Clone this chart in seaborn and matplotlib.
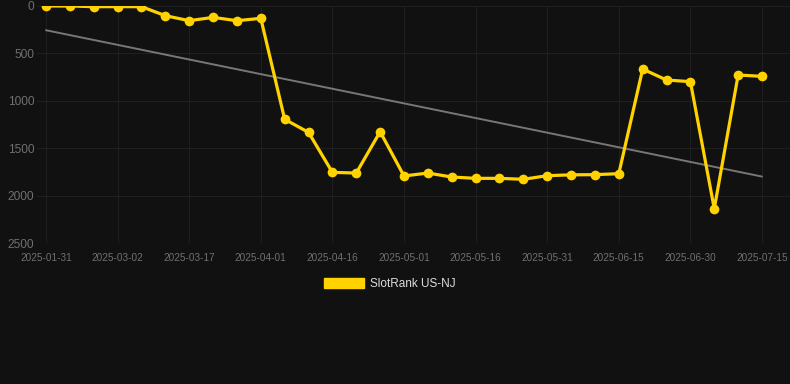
import numpy as np
import matplotlib
matplotlib.use("Agg")
import matplotlib.pyplot as plt
from matplotlib.patches import Patch
import seaborn as sns

# Data
dates = ["2025-01-31", "2025-02-10", "2025-02-20", "2025-03-02", "2025-03-07",
         "2025-03-12", "2025-03-17", "2025-03-22", "2025-03-27", "2025-04-01",
         "2025-04-06", "2025-04-11", "2025-04-16", "2025-04-21", "2025-04-26",
         "2025-05-01", "2025-05-06", "2025-05-11", "2025-05-16", "2025-05-21",
         "2025-05-26", "2025-05-31", "2025-06-05", "2025-06-10", "2025-06-15",
         "2025-06-20", "2025-06-25", "2025-06-30", "2025-07-05", "2025-07-10",
         "2025-07-15"]
ranks = [0, 0, 7, 7, 7, 102, 155, 120, 155, 130,
         1195, 1333, 1755, 1762, 1326, 1793, 1762, 1804, 1818, 1818,
         1828, 1790, 1781, 1779, 1769, 665, 781, 798, 2138, 728,
         742]
series_name = "SlotRank US-NJ"
y_ticks = [0, 500, 1000, 1500, 2000, 2500]

BG = "#111111"
GOLD = "#FFD200"
GRID = "#1f1f1f"

sns.set_theme(style="dark")
plt.rcParams["font.family"] = ["Liberation Sans", "DejaVu Sans"]

fig = plt.figure(figsize=(7.9, 3.84), dpi=100, facecolor=BG)
ax = fig.add_axes([37 / 790, 1 - 243 / 384, 1 - 37 / 790, (243 - 6) / 384])
ax.set_facecolor(BG)

x = np.arange(len(dates))

# Linear trend through the series
coef = np.polyfit(x, ranks, 1)
sns.lineplot(x=x, y=np.polyval(coef, x), ax=ax, color="#777777", lw=1.4)

sns.lineplot(x=x, y=ranks, ax=ax, color=GOLD, lw=2.3, marker="o",
             markersize=7, markeredgewidth=0)

ax.set_xlim(-9 / 23.87, 30 + 28 / 23.87)
ax.set_ylim(2500, 0)
ax.set_yticks(y_ticks)
ax.set_yticklabels([str(v) for v in y_ticks])
ax.set_xticks(x[::3])
ax.set_xticklabels(dates[::3])

ax.grid(True, color=GRID, lw=0.8)
for s in ax.spines.values():
    s.set_visible(False)
ax.tick_params(axis="x", colors=GRID, labelcolor="#707070",
               labelsize=7.2, length=4, width=0.8, pad=3)
ax.tick_params(axis="y", labelcolor="#707070", labelsize=8.6,
               length=0, pad=2)
ax.set_xlabel("")
ax.set_ylabel("")

handle = Patch(facecolor=GOLD, edgecolor=GOLD, label=series_name)
leg = fig.legend(handles=[handle], loc="center",
                 bbox_to_anchor=(389.5 / 790, 1 - 284 / 384),
                 frameon=False, fontsize=8.5, handlelength=3.4,
                 handleheight=1.0, handletextpad=0.5)
for t in leg.get_texts():
    t.set_color("#dddddd")

fig.savefig("out.png", dpi=100, facecolor=BG)
